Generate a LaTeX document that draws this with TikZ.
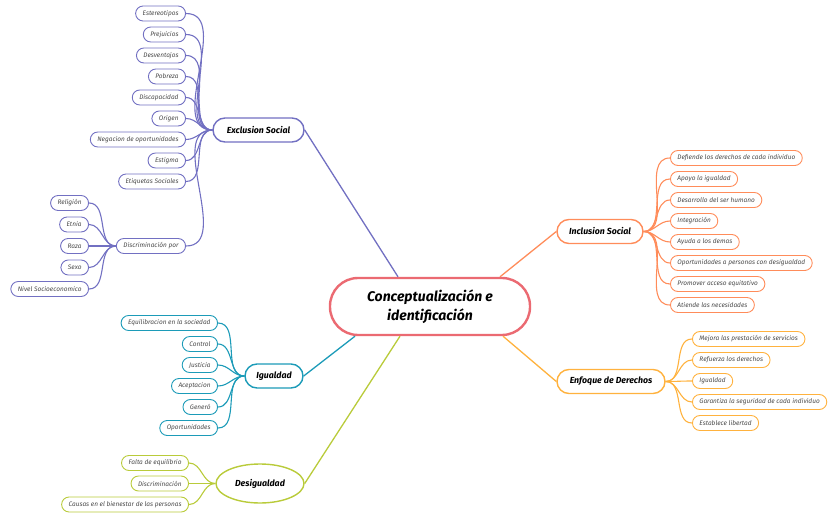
\documentclass[tikz,border=0pt]{standalone}
\usepackage{fontspec}
\setmainfont{Fira Sans}
\usetikzlibrary{shapes.geometric}
\definecolor{cCen}{HTML}{EB6A72}
\definecolor{cExc}{HTML}{7270C2}
\definecolor{cIgu}{HTML}{1C9BB8}
\definecolor{cDes}{HTML}{B9CB3A}
\definecolor{cInc}{HTML}{FF8C5A}
\definecolor{cEnf}{HTML}{FFB23E}
\definecolor{cTxt}{HTML}{4A4A4A}
\tikzset{
  leaf/.style={draw=#1, line width=0.9pt, rounded corners=7.5pt, minimum height=15pt,
    inner xsep=7pt, inner ysep=0pt, fill=white, text=cTxt,
    font=\fontsize{6.5}{7}\selectfont\itshape},
  branch/.style={draw=#1, line width=1.4pt, rounded corners=12pt, minimum height=24pt,
    inner xsep=10pt, fill=white, text=black,
    font=\fontsize{8.8}{10}\selectfont\bfseries\itshape},
  link/.style={draw=#1, line width=1.1pt},
  mainlink/.style={draw=#1, line width=1.3pt},
}
\begin{document}
\begin{tikzpicture}[x=1pt,y=-1pt]
\useasboundingbox (0,0) rectangle (837,518);
% center
\node[draw=cCen, line width=2.4pt, rounded corners=28pt, minimum width=200pt, minimum height=57pt,
  align=center, font=\fontsize{14}{19}\selectfont\bfseries\itshape, fill=white]
  (cen) at (430,306.5) {Conceptualización e\\identificación};
% branches
\node[branch=cExc, minimum width=91pt] (exc) at (258.5,130) {Exclusion Social};
\node[branch=cIgu, minimum width=58pt] (igu) at (274,376) {Igualdad};
\node[draw=cDes, line width=1.4pt, ellipse, minimum width=88pt, minimum height=39pt, inner sep=0pt,
  font=\fontsize{8.8}{10}\selectfont\bfseries\itshape] (des) at (260,483.5) {Desigualdad};
\node[branch=cInc, minimum width=86pt] (inc) at (600,231.5) {Inclusion Social};
\node[branch=cEnf, minimum width=108pt] (enf) at (611,381.5) {Enfoque de Derechos};
% main links
\draw[mainlink=cExc] (exc.east) -- ([xshift=-32pt]cen.north);
\draw[mainlink=cIgu] (igu.east) -- ([xshift=-75pt]cen.south);
\draw[mainlink=cDes] (des.east) -- ([xshift=-30pt]cen.south);
\draw[mainlink=cInc] (inc.west) -- ([xshift=70pt]cen.north);
\draw[mainlink=cEnf] (enf.west) -- ([xshift=73pt]cen.south);
% Exclusion Social leaves
\begin{scope}[every node/.style={leaf=cExc, anchor=east}]
\node (e1) at (186,13.5) {Estereotipos};
\node (e2) at (186,34.5) {Prejuicios};
\node (e3) at (186,55.5) {Desventajos};
\node (e4) at (186,76.5) {Pobreza};
\node (e5) at (186,97.5) {Discapacidad};
\node (e6) at (186,118.5) {Origen};
\node (e7) at (186,139.5) {Negacion de oportunidades};
\node (e8) at (186,160.5) {Estigma};
\node (e9) at (186,181.5) {Etiquetas Sociales};
\node (e10) at (186,246) {Discriminación por};
\node (d1) at (89,203) {Religión};
\node (d2) at (89,224.5) {Etnia};
\node (d3) at (89,246) {Raza};
\node (d4) at (89,267.5) {Sexo};
\node (d5) at (89,289) {Nivel Socioeconomico};
\end{scope}
\foreach \n in {e1,e2,e3,e4,e5,e6,e7,e8,e9,e10}
  \draw[link=cExc] (\n.east) to[out=0,in=180] (exc.west);
\foreach \n in {d1,d2,d3,d4,d5}
  \draw[link=cExc] (\n.east) to[out=0,in=180] (e10.west);
% Igualdad leaves
\begin{scope}[every node/.style={leaf=cIgu, anchor=east}]
\node (i1) at (218,323) {Equilibracion en la sociedad};
\node (i2) at (218,344) {Control};
\node (i3) at (218,365) {Justicia};
\node (i4) at (218,386) {Aceptacion};
\node (i5) at (218,407) {Generó};
\node (i6) at (218,428) {Oportunidades};
\end{scope}
\foreach \n in {i1,i2,i3,i4,i5,i6}
  \draw[link=cIgu] (\n.east) to[out=0,in=180] (igu.west);
% Desigualdad leaves
\begin{scope}[every node/.style={leaf=cDes, anchor=east}]
\node (g1) at (189,463) {Falta de equilibrio};
\node (g2) at (189,483.5) {Discriminación};
\node (g3) at (189,504.5) {Causas en el bienestar de las personas};
\end{scope}
\foreach \n in {g1,g2,g3}
  \draw[link=cDes] (\n.east) to[out=0,in=180] (des.west);
% Inclusion Social leaves
\begin{scope}[every node/.style={leaf=cInc, anchor=west}]
\node (n1) at (670,158) {Defiende los derechos de cada individuo};
\node (n2) at (670,179) {Apoyo la igualdad};
\node (n3) at (670,200) {Desarrollo del ser humano};
\node (n4) at (670,221) {Integración};
\node (n5) at (670,242) {Ayuda a los demas};
\node (n6) at (670,263) {Oportunidades a personas con desigualdad};
\node (n7) at (670,284) {Promover acceso equitativo};
\node (n8) at (670,305) {Atiende las necesidades};
\end{scope}
\foreach \n in {n1,n2,n3,n4,n5,n6,n7,n8}
  \draw[link=cInc] (inc.east) to[out=0,in=180] (\n.west);
% Enfoque de Derechos leaves
\begin{scope}[every node/.style={leaf=cEnf, anchor=west}]
\node (f1) at (692,339) {Mejora las prestación de servicios};
\node (f2) at (692,360) {Refuerza los derechos};
\node (f3) at (692,381) {Igualdad};
\node (f4) at (692,402) {Garantiza la seguridad de cada individuo};
\node (f5) at (692,423) {Establece libertad};
\end{scope}
\foreach \n in {f1,f2,f3,f4,f5}
  \draw[link=cEnf] (enf.east) to[out=0,in=180] (\n.west);
\end{tikzpicture}
\end{document}
